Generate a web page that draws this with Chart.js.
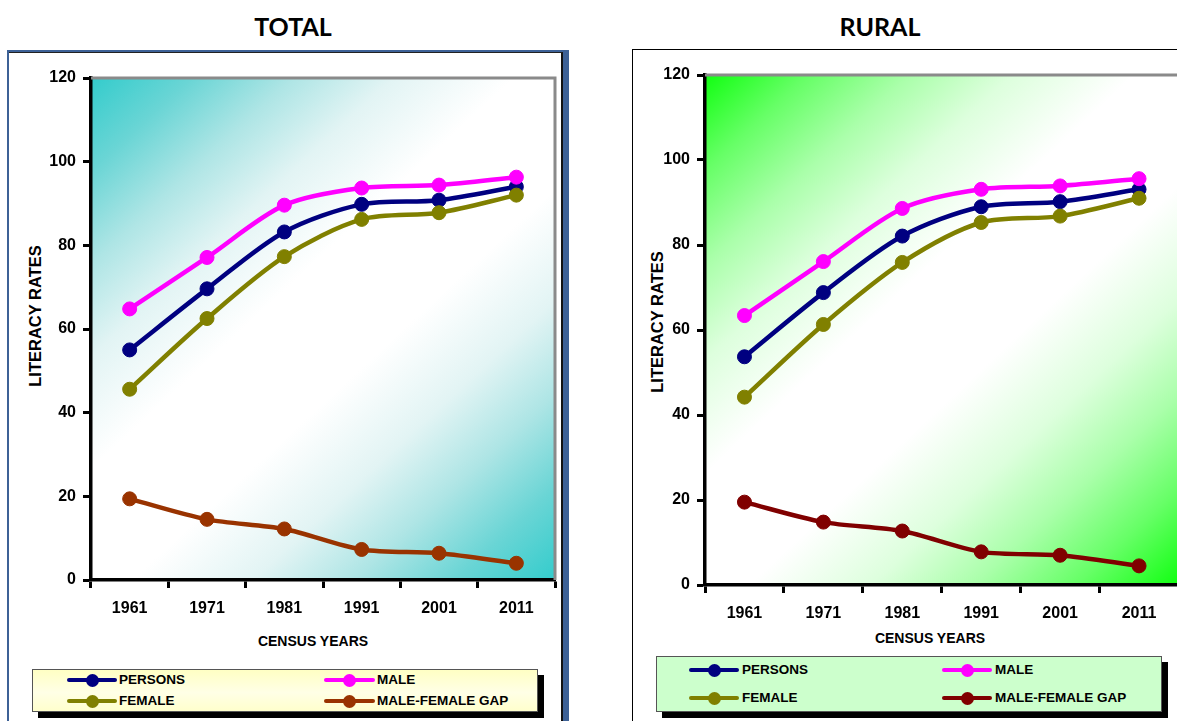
<!DOCTYPE html>
<html>
<head>
<meta charset="utf-8">
<script src="https://cdn.jsdelivr.net/npm/chart.js@4.4.0/dist/chart.umd.min.js"></script>
<style>
  html, body { margin:0; padding:0; background:#fff; width:1177px; height:721px; overflow:hidden; position:relative; font-family:"Liberation Sans", Arial, sans-serif; }
  .ptitle { position:absolute; font-family: Lato, "Open Sans", sans-serif; font-weight:700; font-size:25px; color:#000; transform:translate(-50%,-50%); white-space:nowrap; }
  .ytitle { position:absolute; font-weight:700; font-size:16.5px; color:#000; transform:translate(-50%,-50%) rotate(-90deg); white-space:nowrap; }
  .xtitle { position:absolute; font-weight:700; font-size:14px; color:#000; transform:translate(-50%,-50%); white-space:nowrap; }
  .frameL { position:absolute; left:7px; top:50px; width:554px; height:700px; border:2px solid #3d6196; border-right-width:6px; }
  .frameLin { position:absolute; left:0; top:0; right:0; bottom:0; border-top:1px solid #222; border-right:2px solid #111; }
  .frameR { position:absolute; left:632px; top:49px; width:600px; height:700px; border:1px solid #000; }
  .legend { position:absolute; box-sizing:border-box; border:1px solid #555; box-shadow:6px 6px 0 #000; }
  .litem { position:absolute; font-weight:700; font-size:13.5px; color:#000; white-space:nowrap; }
  .lsym { position:absolute; height:4px; border-radius:2px; }
  .ldot { position:absolute; width:13px; height:13px; border-radius:50%; }
  canvas { position:absolute; }
</style>
</head>
<body>
<div class="frameL"><div class="frameLin"></div></div>
<div class="frameR"></div>

<div class="ptitle" style="left:293px; top:26px;">TOTAL</div>
<div class="ptitle" style="left:880px; top:26px;">RURAL</div>

<div class="ytitle" style="left:35px; top:316px;">LITERACY RATES</div>
<div class="xtitle" style="left:313px; top:641px;">CENSUS YEARS</div>
<div class="ytitle" style="left:657px; top:322px;">LITERACY RATES</div>
<div class="xtitle" style="left:930px; top:638px;">CENSUS YEARS</div>

<div style="position:absolute; left:10px; top:55px; width:560px; height:600px;"><canvas id="cTotal"></canvas></div>
<div style="position:absolute; left:640px; top:55px; width:560px; height:600px;"><canvas id="cRural"></canvas></div>

<div id="legTotal" class="legend" style="left:32px; top:669px; width:506px; height:43px; background:linear-gradient(to bottom, #ffffc4 0%, #ffffe6 55%, #ffffcc 100%);"></div>
<div id="legRural" class="legend" style="left:656px; top:656px; width:506px; height:56px; background:#ccffcc;"></div>

<script>
// ---------- DATA ----------
const years = ['1961', '1971', '1981', '1991', '2001', '2011'];
const yTickValues = [0, 20, 40, 60, 80, 100, 120];
const seriesNames = ['PERSONS', 'MALE', 'FEMALE', 'MALE-FEMALE GAP'];

const totalPersons = [55.0, 69.6, 83.2, 89.8, 90.8, 94.0];
const totalMale    = [64.8, 77.1, 89.6, 93.7, 94.4, 96.3];
const totalFemale  = [45.6, 62.5, 77.3, 86.2, 87.8, 92.0];
const totalGap     = [19.4, 14.5, 12.2, 7.3, 6.4, 4.0];

const ruralPersons = [53.7, 68.8, 82.1, 89.0, 90.2, 93.1];
const ruralMale    = [63.4, 76.1, 88.6, 93.1, 93.9, 95.6];
const ruralFemale  = [44.2, 61.3, 75.9, 85.3, 86.8, 91.0];
const ruralGap     = [19.5, 14.8, 12.7, 7.8, 7.0, 4.5];

// ---------- STYLES ----------
const totalColors = ['#000080', '#ff00ff', '#808000', '#993300'];
const ruralColors = ['#000080', '#ff00ff', '#808000', '#800000'];
const totalBg = ['#33cccc', '#6ad5d5', '#aee5e5', '#e2f4f4'];
const ruralBg = ['#11ff11', '#66ff66', '#aaffaa', '#ddffdd'];

Chart.defaults.font.family = '"Liberation Sans", Arial, sans-serif';
Chart.defaults.color = '#000';

function bgPlugin(c) {
  return {
    id: 'bgGrad',
    beforeDraw(chart) {
      const {ctx, chartArea: a} = chart;
      const g = ctx.createLinearGradient(a.left, a.top, a.right, a.bottom);
      g.addColorStop(0, c[0]);
      g.addColorStop(0.1, c[1]);
      g.addColorStop(0.2, c[2]);
      g.addColorStop(0.3, c[3]);
      g.addColorStop(0.42, '#ffffff');
      g.addColorStop(0.58, '#ffffff');
      g.addColorStop(0.7, c[3]);
      g.addColorStop(0.8, c[2]);
      g.addColorStop(0.9, c[1]);
      g.addColorStop(1, c[0]);
      ctx.save();
      ctx.fillStyle = g;
      ctx.fillRect(a.left, a.top, a.right - a.left, a.bottom - a.top);
      ctx.restore();
    },
    beforeDatasetsDraw(chart) {
      const {ctx, chartArea: a} = chart;
      ctx.save();
      ctx.strokeStyle = '#8a8a8a';
      ctx.lineWidth = 3;
      ctx.beginPath();
      ctx.moveTo(a.left, a.top);
      ctx.lineTo(a.right, a.top);
      ctx.lineTo(a.right, a.bottom);
      ctx.stroke();
      ctx.restore();
    }
  };
}

function makeChart(id, seriesData, colors, bg, yWidth, xHeight, padTop, padRight) {
  const order = [3, 2, 1, 0];
  const datasets = seriesData.map((d, i) => ({
    label: seriesNames[i],
    data: d,
    borderColor: colors[i],
    backgroundColor: colors[i],
    pointBackgroundColor: colors[i],
    pointBorderColor: colors[i],
    borderWidth: 4.5,
    pointRadius: 7,
    pointBorderWidth: 1,
    pointHoverRadius: 7,
    tension: 0.3,
    fill: false,
    order: order[i]
  }));
  return new Chart(document.getElementById(id), {
    type: 'line',
    data: { labels: years, datasets },
    plugins: [bgPlugin(bg)],
    options: {
      responsive: true,
      maintainAspectRatio: false,
      animation: false,
      events: [],
      layout: { padding: { top: padTop, right: padRight, left: 0, bottom: 0 } },
      plugins: { legend: { display: false }, tooltip: { enabled: false } },
      scales: {
        x: {
          type: 'category',
          offset: true,
          grid: { offset: true, drawOnChartArea: false, drawTicks: true, tickLength: 8, tickWidth: 3, tickColor: '#000' },
          border: { display: true, color: '#000', width: 3.5 },
          ticks: { font: { size: 16, weight: 'bold' }, padding: 11, maxRotation: 0, color: '#000' },
          afterFit(s) { s.height = xHeight; }
        },
        y: {
          min: yTickValues[0],
          max: yTickValues[yTickValues.length - 1],
          afterBuildTicks(s) { s.ticks = yTickValues.map(v => ({ value: v })); },
          grid: { drawOnChartArea: false, drawTicks: true, tickLength: 8, tickWidth: 3, tickColor: '#000' },
          border: { display: true, color: '#000', width: 3.5 },
          ticks: { font: { size: 16, weight: 'bold' }, padding: 7, color: '#000' },
          afterFit(s) { s.width = yWidth; }
        }
      }
    }
  });
}

makeChart('cTotal', [totalPersons, totalMale, totalFemale, totalGap], totalColors, totalBg, 81, 75, 23, 15);
makeChart('cRural', [ruralPersons, ruralMale, ruralFemale, ruralGap], ruralColors, ruralBg, 65, 70, 20, 21.5);

// ---------- LEGENDS (HTML) ----------
function buildLegend(el, colors, rows, cols) {
  const layout = [[0, 0], [0, 1], [1, 0], [1, 1]]; // [row, col]
  seriesNames.forEach((name, i) => {
    const [r, c] = layout[i];
    const [ls, le, tx] = cols[c];
    const cy = rows[r];
    const line = document.createElement('div');
    line.className = 'lsym';
    line.style.left = ls + 'px'; line.style.width = (le - ls) + 'px';
    line.style.top = (cy - 2) + 'px'; line.style.background = colors[i];
    el.appendChild(line);
    const dot = document.createElement('div');
    dot.className = 'ldot';
    dot.style.left = ((ls + le) / 2 - 6.5) + 'px'; dot.style.top = (cy - 6.5) + 'px';
    dot.style.background = colors[i];
    el.appendChild(dot);
    const t = document.createElement('div');
    t.className = 'litem';
    t.textContent = name;
    t.style.left = tx + 'px'; t.style.top = (cy - 8) + 'px';
    el.appendChild(t);
  });
}
buildLegend(document.getElementById('legTotal'), totalColors, [10, 31], [[34, 84, 86], [291, 342, 344]]);
buildLegend(document.getElementById('legRural'), ruralColors, [13, 41], [[32, 82, 85], [285, 335, 338]]);
</script>
</body>
</html>
